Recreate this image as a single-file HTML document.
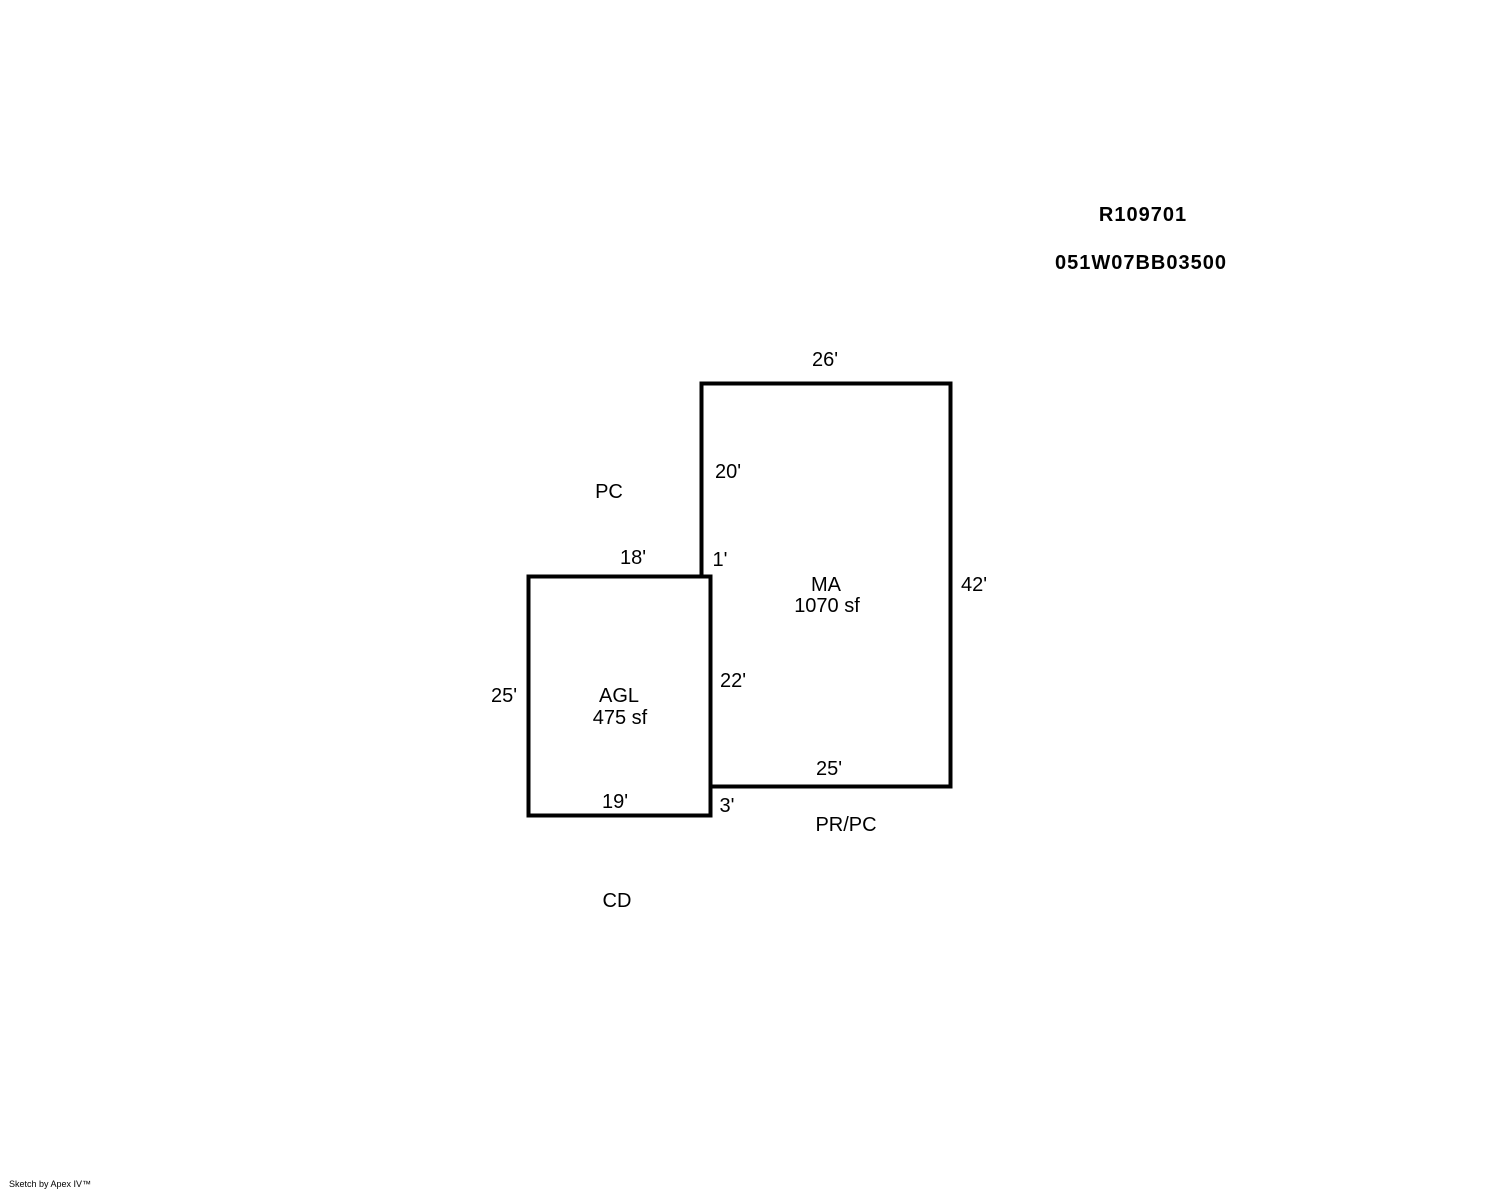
<!DOCTYPE html>
<html><head><meta charset="utf-8"><style>
body{margin:0;background:#fff;}
svg{display:block}
text{font-family:"Liberation Sans",Arial,sans-serif;font-size:20px;fill:#000;text-anchor:middle;dominant-baseline:central}
.b{font-weight:bold;font-size:20px;letter-spacing:1px}
</style></head><body>
<svg width="1488" height="1190" viewBox="0 0 1488 1190">
<rect x="701.5" y="383.5" width="249" height="403" fill="none" stroke="#000" stroke-width="4"/>
<rect x="528.5" y="576.5" width="182" height="239" fill="#fff" stroke="#000" stroke-width="4"/>
<text class="b" x="1143" y="215">R109701</text>
<text class="b" x="1141" y="263">051W07BB03500</text>
<text x="825" y="360">26'</text>
<text x="728" y="472">20'</text>
<text x="609" y="492">PC</text>
<text x="633" y="558">18'</text>
<text x="720" y="560">1'</text>
<text x="826" y="585">MA</text>
<text x="827" y="606">1070 sf</text>
<text x="974" y="585">42'</text>
<text x="733" y="681">22'</text>
<text x="504" y="696">25'</text>
<text x="619" y="696">AGL</text>
<text x="620" y="718">475 sf</text>
<text x="829" y="769">25'</text>
<text x="615" y="802">19'</text>
<text x="727" y="806">3'</text>
<text x="846" y="825">PR/PC</text>
<text x="617" y="901">CD</text>
<text x="50" y="1184" style="font-size:9px">Sketch by Apex IV™</text>
</svg>
</body></html>
